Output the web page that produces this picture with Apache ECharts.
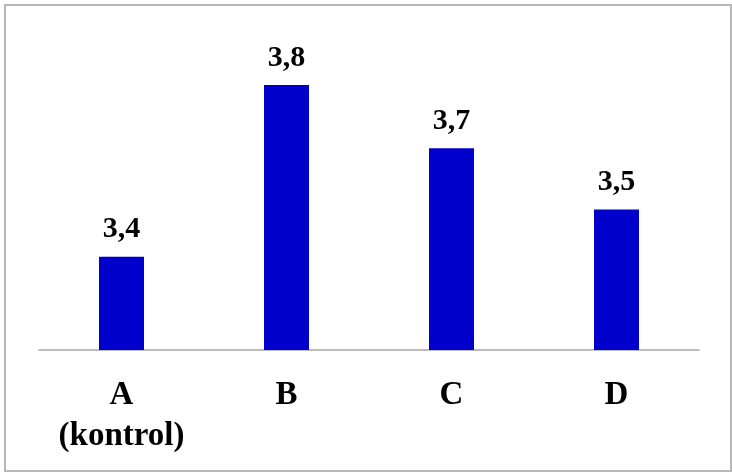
<!DOCTYPE html>
<html>
<head>
<meta charset="utf-8">
<script src="https://cdn.jsdelivr.net/npm/echarts@6/dist/echarts.min.js"></script>
<style>
html,body{margin:0;padding:0;background:#fff;}
#wrap{position:relative;width:732px;height:472px;}
#chart{position:absolute;left:0;top:0;width:732px;height:472px;}
#frame{position:absolute;left:4px;top:4px;width:724px;height:464px;border:2px solid #b8b8b8;box-sizing:content-box;pointer-events:none;}
</style>
</head>
<body>
<div id="wrap"><div id="chart"></div><div id="frame"></div></div>
<script>
const categories = ['A\n(kontrol)', 'B', 'C', 'D'];
const values = [3.417, 3.816, 3.669, 3.527];
const yMin = 3.2;
const yMax = 3.9;
const serif = "'Liberation Serif', 'Times New Roman', 'DejaVu Serif', serif";

const chart = echarts.init(document.getElementById('chart'), null, {renderer: 'canvas'});
chart.setOption({
  animation: false,
  backgroundColor: '#fff',
  grid: {left: 39, right: 33, top: 49, bottom: 122, containLabel: false},
  xAxis: {
    type: 'category',
    data: categories,
    axisLine: {show: true, lineStyle: {color: '#a6a6a6', width: 1.5}},
    axisTick: {show: false},
    axisLabel: {
      interval: 0,
      margin: 25,
      fontFamily: serif,
      fontWeight: 'bold',
      fontSize: 33,
      lineHeight: 41,
      color: '#000'
    }
  },
  yAxis: {
    type: 'value',
    min: yMin,
    max: yMax,
    show: false,
    splitLine: {show: false}
  },
  series: [{
    type: 'bar',
    data: values,
    barWidth: 45,
    itemStyle: {color: '#0000CC'},
    label: {
      show: true,
      position: 'top',
      distance: 12,
      fontFamily: serif,
      fontWeight: 'bold',
      fontSize: 30,
      color: '#000',
      formatter: p => p.value.toFixed(1).replace('.', ',')
    }
  }]
});
</script>
</body>
</html>
